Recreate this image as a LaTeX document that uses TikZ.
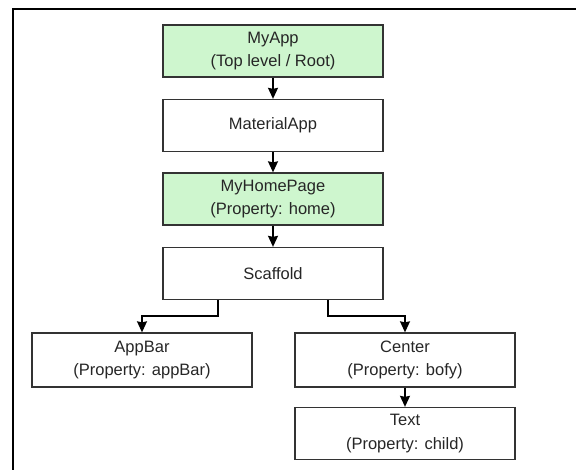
\documentclass[tikz,border=0pt]{standalone}
\usepackage{fontspec}
\setmainfont{Liberation Sans}
\usetikzlibrary{arrows.meta}
\definecolor{widgetgreen}{RGB}{206,246,206}
\tikzset{
    widget/.style={draw=black!80, line width=1.3pt, minimum width=220pt, minimum height=52pt,
        align=center, font=\fontsize{16.5}{23.5}\selectfont, text=black!85, inner sep=0pt},
    rootwidget/.style={widget, fill=widgetgreen},
    link/.style={-{Stealth[width=10pt,length=11pt,inset=1pt]}, line width=1.3pt}
}
\begin{document}
\begin{tikzpicture}[x=1pt, y=1pt]
    \useasboundingbox (0,0) rectangle (576,470);

    % Outer frame
    \coordinate (frameBL) at (13,0);
    \coordinate (frameTL) at (13,461);
    \coordinate (frameTR) at (576,461);
    \draw[line width=1.6pt] (frameBL) -- (frameTL) -- (frameTR);

    % Widget tree
    \node[rootwidget] (myapp) at (273,419) {MyApp\\(Top level / Root)};
    \node[widget] (material) at (273,344.5) {MaterialApp};
    \node[rootwidget] (homepage) at (273,271) {MyHomePage\\(Property: home)};
    \node[widget] (scaffold) at (273,196.5) {Scaffold};
    \node[widget, minimum height=54pt] (appbar) at (142,110) {AppBar\\(Property: appBar)};
    \node[widget, minimum height=54pt] (center) at (405,110) {Center\\(Property: bofy)};
    \node[widget] (text) at (405,36.5) {Text\\(Property: child)};

    % Parent to child links
    \draw[link] (myapp) -- (material);
    \draw[link] (material) -- (homepage);
    \draw[link] (homepage) -- (scaffold);
    \draw[link] ([xshift=-55pt]scaffold.south) -- ++(0,-16) -| (appbar.north);
    \draw[link] ([xshift=55pt]scaffold.south) -- ++(0,-16) -| (center.north);
    \draw[link] (center) -- (text);
\end{tikzpicture}
\end{document}
